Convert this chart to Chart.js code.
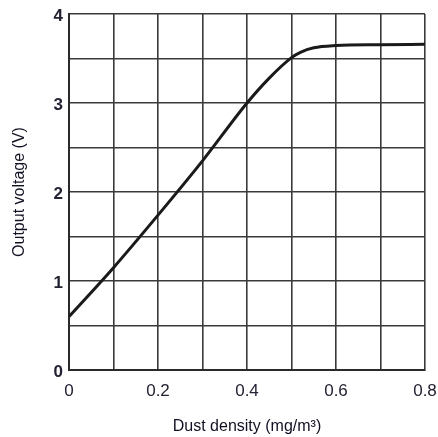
<!DOCTYPE html>
<html>
<head>
<meta charset="utf-8">
<script src="https://cdn.jsdelivr.net/npm/chart.js@4/dist/chart.umd.min.js"></script>
<style>
  html, body { margin: 0; padding: 0; background: #ffffff; }
  #wrap { width: 438px; height: 437px; position: relative; }
</style>
</head>
<body>
<div id="wrap"><canvas id="c" width="438" height="437"></canvas></div>
<script>
// Data
const dustDensity = [0, 0.1, 0.2, 0.3, 0.4, 0.45, 0.5, 0.52, 0.55, 0.6, 0.7, 0.8];
const outputVoltage = [0.6, 1.15, 1.74, 2.35, 3.0, 3.28, 3.51, 3.57, 3.62, 3.645, 3.655, 3.66];
const xTickValues = [0, 0.2, 0.4, 0.6, 0.8];
const yTickValues = [0, 1, 2, 3, 4];
const xTitle = 'Dust density (mg/m\u00B3)';
const yTitle = 'Output voltage (V)';

const points = dustDensity.map((x, i) => ({ x: x, y: outputVoltage[i] }));

new Chart(document.getElementById('c'), {
  type: 'line',
  data: {
    datasets: [{
      data: points,
      borderColor: '#1a1a1a',
      borderWidth: 3,
      pointRadius: 0,
      fill: false,
      cubicInterpolationMode: 'monotone'
    }]
  },
  options: {
    responsive: false,
    animation: false,
    events: [],
    layout: { padding: { left: 0, right: 13, top: 14, bottom: 0 } },
    plugins: { legend: { display: false }, tooltip: { enabled: false } },
    scales: {
      x: {
        type: 'linear',
        min: 0, max: 0.8,
        afterBuildTicks: (s) => {
          const t = [];
          for (let i = 0; i <= 8; i++) t.push({ value: Math.round(i * 10) / 100 });
          s.ticks = t;
        },
        afterFit: (s) => { s.height = 67; s.paddingLeft = 0; s.paddingRight = 0; },
        grid: { color: '#3a3a3a', lineWidth: 1.6, drawTicks: false },
        border: { display: true, color: '#2a2a2a', width: 2 },
        ticks: {
          padding: 11,
          autoSkip: false,
          maxRotation: 0,
          color: '#222233',
          font: { family: 'Liberation Sans', size: 17 },
          callback: (v) => {
            const m = xTickValues.find(t => Math.abs(t - v) < 1e-9);
            return m === undefined ? '' : String(m);
          }
        },
        title: {
          display: true,
          text: xTitle,
          color: '#111122',
          font: { family: 'Liberation Sans', size: 16 },
          padding: { top: 0, bottom: 1 }
        }
      },
      y: {
        type: 'linear',
        min: 0, max: 4,
        afterBuildTicks: (s) => {
          const t = [];
          for (let i = 0; i <= 8; i++) t.push({ value: i * 0.5 });
          s.ticks = t;
        },
        afterFit: (s) => { s.width = 69; s.paddingTop = 0; s.paddingBottom = 0; },
        grid: { color: '#3a3a3a', lineWidth: 1.6, drawTicks: false },
        border: { display: true, color: '#2a2a2a', width: 2 },
        ticks: {
          padding: 6,
          labelOffset: 2,
          autoSkip: false,
          color: '#222233',
          font: { family: 'Liberation Sans', size: 17, weight: 'bold' },
          callback: (v) => {
            const m = yTickValues.find(t => Math.abs(t - v) < 1e-9);
            return m === undefined ? '' : String(m);
          }
        },
        title: {
          display: true,
          text: yTitle,
          color: '#111122',
          font: { family: 'Liberation Sans', size: 16 },
          padding: { top: 10, bottom: 0 }
        }
      }
    }
  }
});
</script>
</body>
</html>
